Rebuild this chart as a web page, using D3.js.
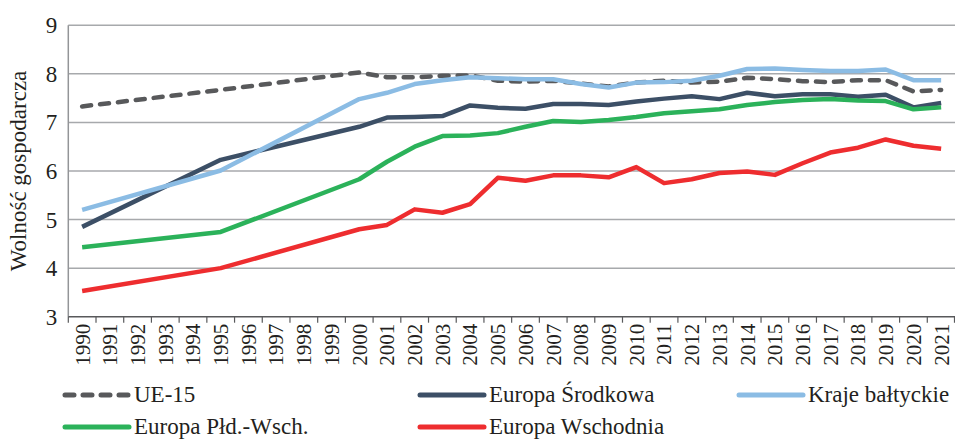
<!DOCTYPE html>
<html>
<head>
<meta charset="utf-8">
<script src="https://cdn.jsdelivr.net/npm/d3@7"></script>
<style>
  body { margin: 0; background: #fff; }
</style>
</head>
<body>
<div class="chart"></div>
<script>
// lata 1990-2021 (przed 2000 tylko co 5 lat)
var years = d3.range(1990, 2022);
var yTicks = [3, 4, 5, 6, 7, 8, 9];

var ue15 = [7.33, null, null, null, null, 7.67, null, null, null, null, 8.03,
    7.93, 7.93, 7.96, 7.97, 7.86, 7.84, 7.86, 7.80, 7.74, 7.82, 7.86, 7.82, 7.84,
    7.92, 7.89, 7.85, 7.83, 7.87, 7.87, 7.64, 7.67];
var srodkowa = [4.85, null, null, null, null, 6.23, null, null, null, null, 6.91,
    7.10, 7.11, 7.13, 7.35, 7.30, 7.28, 7.38, 7.38, 7.36, 7.43, 7.49, 7.54, 7.48,
    7.61, 7.54, 7.58, 7.58, 7.53, 7.57, 7.31, 7.40];
var baltyckie = [5.20, null, null, null, null, 6.01, null, null, null, null, 7.48,
    7.61, 7.79, 7.87, 7.93, 7.91, 7.89, 7.89, 7.79, 7.72, 7.82, 7.83, 7.86, 7.96,
    8.10, 8.11, 8.08, 8.06, 8.06, 8.09, 7.87, 7.87];
var pldWsch = [4.43, null, null, null, null, 4.745, null, null, null, null, 5.83,
    6.19, 6.50, 6.72, 6.73, 6.78, 6.91, 7.03, 7.01, 7.05, 7.11, 7.19, 7.23, 7.27,
    7.36, 7.42, 7.46, 7.48, 7.45, 7.44, 7.27, 7.31];
var wschodnia = [3.53, null, null, null, null, 4.00, null, null, null, null, 4.80,
    4.89, 5.21, 5.14, 5.32, 5.86, 5.80, 5.91, 5.91, 5.87, 6.08, 5.75, 5.83, 5.96,
    5.99, 5.92, 6.16, 6.38, 6.48, 6.65, 6.52, 6.46];

var series = [
    { name: "UE-15", values: ue15, color: "#58595b", dash: true, lx: 65, ly: 395 },
    { name: "Europa Środkowa", values: srodkowa, color: "#3c4f66", lx: 420, ly: 395 },
    { name: "Kraje bałtyckie", values: baltyckie, color: "#8bbce4", lx: 739, ly: 395 },
    { name: "Europa Płd.-Wsch.", values: pldWsch, color: "#2bb25a", lx: 65, ly: 427 },
    { name: "Europa Wschodnia", values: wschodnia, color: "#ee2d2f", lx: 420, ly: 427 }
];

(function() {
    var width = 955, height = 439;
    var mLeft = 68.3, mRight = 955, mTop = 25.3, mBottom = 316.7;
    var font = "'Liberation Serif', 'Times New Roman', 'DejaVu Serif', serif";

    var svg = d3.select(".chart").append("svg")
        .attr("width", width)
        .attr("height", height)
        .attr("font-family", font);

    var x = d3.scaleBand().domain(years).range([mLeft, mRight]).padding(0);
    var y = d3.scaleLinear().domain([3, 9]).range([mBottom, mTop]);

    // linie siatki
    svg.selectAll(".grid")
        .data(yTicks.slice(1))
        .enter().append("line")
        .attr("class", "grid")
        .attr("x1", mLeft)
        .attr("x2", mRight)
        .attr("y1", function(d) { return y(d); })
        .attr("y2", function(d) { return y(d); })
        .style("stroke", "#a7a9ac")
        .style("stroke-width", 1.5);

    // os Y
    svg.append("line")
        .attr("x1", mLeft).attr("x2", mLeft)
        .attr("y1", mTop).attr("y2", mBottom)
        .style("stroke", "#939598")
        .style("stroke-width", 1.5);

    svg.selectAll(".ylab")
        .data(yTicks)
        .enter().append("text")
        .attr("class", "ylab")
        .attr("x", mLeft - 11)
        .attr("y", function(d) { return y(d); })
        .attr("dy", "0.35em")
        .attr("text-anchor", "end")
        .style("font-size", "23px")
        .style("fill", "#231f20")
        .text(function(d) { return d; });

    svg.append("text")
        .attr("transform", "translate(26," + ((mTop + mBottom) / 2) + ") rotate(-90)")
        .attr("text-anchor", "middle")
        .style("font-size", "23px")
        .style("fill", "#231f20")
        .text("Wolność gospodarcza");

    // os X
    svg.append("line")
        .attr("x1", mLeft).attr("x2", mRight)
        .attr("y1", mBottom).attr("y2", mBottom)
        .style("stroke", "#58595b")
        .style("stroke-width", 1.5);

    svg.selectAll(".xtick")
        .data(years.concat([null]))
        .enter().append("line")
        .attr("class", "xtick")
        .attr("x1", function(d) { return d == null ? mRight - 0.5 : x(d); })
        .attr("x2", function(d) { return d == null ? mRight - 0.5 : x(d); })
        .attr("y1", mBottom)
        .attr("y2", mBottom + 6)
        .style("stroke", "#58595b")
        .style("stroke-width", 1.2);

    svg.selectAll(".xlab")
        .data(years)
        .enter().append("text")
        .attr("class", "xlab")
        .attr("transform", function(d) {
            return "translate(" + (x(d) + x.bandwidth() / 2) + "," + (mBottom + 7) + ") rotate(-90)";
        })
        .attr("dy", "0.35em")
        .attr("text-anchor", "end")
        .style("font-size", "21px")
        .style("fill", "#231f20")
        .text(function(d) { return d; });

    // linie serii
    var line = d3.line()
        .x(function(d) { return x(d.year) + x.bandwidth() / 2; })
        .y(function(d) { return y(d.value); });

    series.forEach(function(s) {
        var pts = years.map(function(yr, i) { return { year: yr, value: s.values[i] }; })
            .filter(function(d) { return d.value != null; });
        svg.append("path")
            .datum(pts)
            .attr("d", line)
            .style("fill", "none")
            .style("stroke", s.color)
            .style("stroke-width", 4.5)
            .style("stroke-linejoin", "round")
            .style("stroke-linecap", s.dash ? "round" : "butt")
            .style("stroke-dasharray", s.dash ? "9,9" : null);
    });

    // legenda
    var legend = svg.selectAll(".legend")
        .data(series)
        .enter().append("g")
        .attr("class", "legend");

    legend.append("line")
        .attr("x1", function(d) { return d.lx; })
        .attr("x2", function(d) { return d.lx + 64; })
        .attr("y1", function(d) { return d.ly; })
        .attr("y2", function(d) { return d.ly; })
        .style("stroke", function(d) { return d.color; })
        .style("stroke-width", 5)
        .style("stroke-linecap", "round")
        .style("stroke-dasharray", function(d) { return d.dash ? "9,9" : null; });

    legend.append("text")
        .attr("x", function(d) { return d.lx + 69; })
        .attr("y", function(d) { return d.ly + 7; })
        .style("font-size", "23px")
        .style("fill", "#231f20")
        .text(function(d) { return d.name; });
})();
</script>
</body>
</html>
